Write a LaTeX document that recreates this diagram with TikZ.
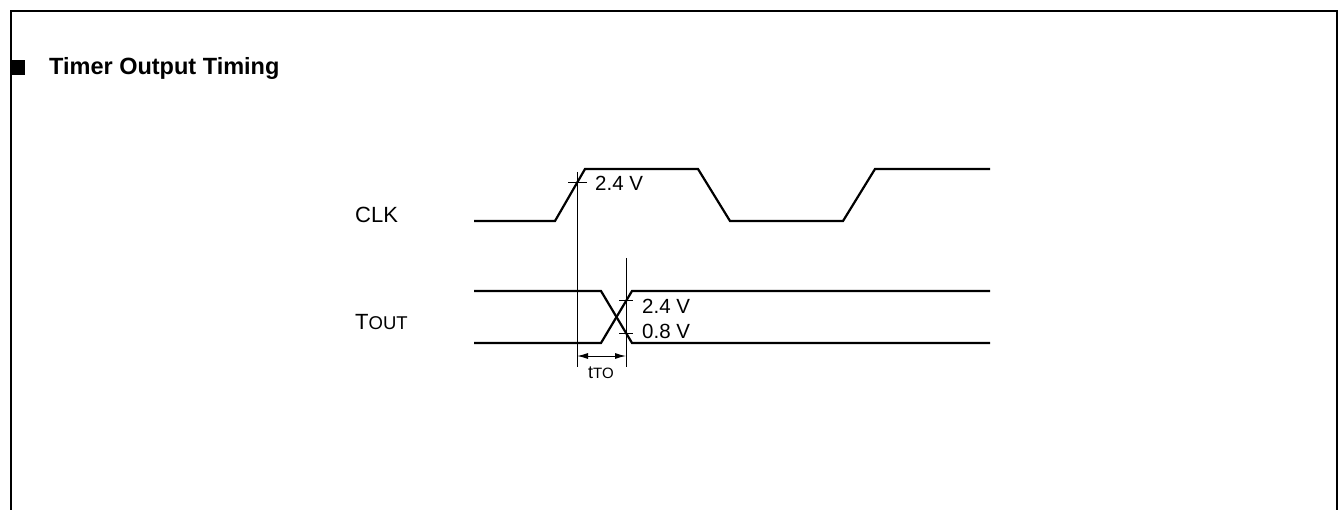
\documentclass[tikz,border=0pt]{standalone}
\usepackage{fontspec}
\setmainfont{Liberation Sans}
\usetikzlibrary{arrows.meta}
\begin{document}
\begin{tikzpicture}[x=1pt,y=-1pt,
  wave/.style={line width=2.2pt, line join=miter},
  refline/.style={line width=1pt},
  frameline/.style={line width=2.2pt},
  lbl/.style={inner sep=0pt, anchor=base west, font=\fontsize{20.5}{24}\selectfont},
  siglbl/.style={lbl, font=\fontsize{22}{26}\selectfont},
  dimarrow/.style={line width=1pt, {Latex[length=11pt,width=6pt]}-{Latex[length=11pt,width=6pt]}}]
\useasboundingbox (0,0) rectangle (1340,510);
% frame
\draw[frameline] (11,510) -- (11,11) -- (1337,11) -- (1337,510);
% title
\fill (10,60) rectangle (25,75);
\node[lbl, font=\fontsize{23.5}{27}\selectfont\bfseries] (title) at (49,75) {Timer Output Timing};
% signal names
\node[siglbl] (clk) at (355,223) {CLK};
\node[siglbl] (tout) at (355,329) {T{\fontsize{18.5}{22}\selectfont OUT}};
% CLK waveform
\draw[wave] (474,221) -- (555,221) -- (585,169) -- (698,169) -- (730,221) -- (843,221) -- (875,169) -- (990,169);
% TOUT waveform
\draw[wave] (474,291) -- (601,291) -- (632,343) -- (990,343);
\draw[wave] (474,343) -- (601,343) -- (632,291) -- (990,291);
% reference lines
\coordinate (r1top) at (577,172);
\coordinate (r1bot) at (577,367);
\coordinate (r2top) at (626,258);
\coordinate (r2bot) at (626,367);
\draw[refline] (r1top) -- (r1bot);
\draw[refline] (r2top) -- (r2bot);
% ticks
\coordinate (t1a) at (568,183); \coordinate (t1b) at (587,183);
\coordinate (t2a) at (619,301); \coordinate (t2b) at (633,301);
\coordinate (t3a) at (619,333); \coordinate (t3b) at (633,333);
\draw[refline] (t1a) -- (t1b);
\draw[refline] (t2a) -- (t2b);
\draw[refline] (t3a) -- (t3b);
% level labels
\node[lbl] (v1) at (595,191) {2.4 V};
\node[lbl] (v2) at (642,314) {2.4 V};
\node[lbl] (v3) at (642,338) {0.8 V};
% dimension
\coordinate (d1) at (577,356);
\coordinate (d2) at (626,356);
\draw[dimarrow] (d1) -- (d2);
\node[lbl] (tto) at (588,378) {{\fontsize{18}{21}\selectfont t}{\fontsize{15}{18}\selectfont TO}};
\end{tikzpicture}
\end{document}
